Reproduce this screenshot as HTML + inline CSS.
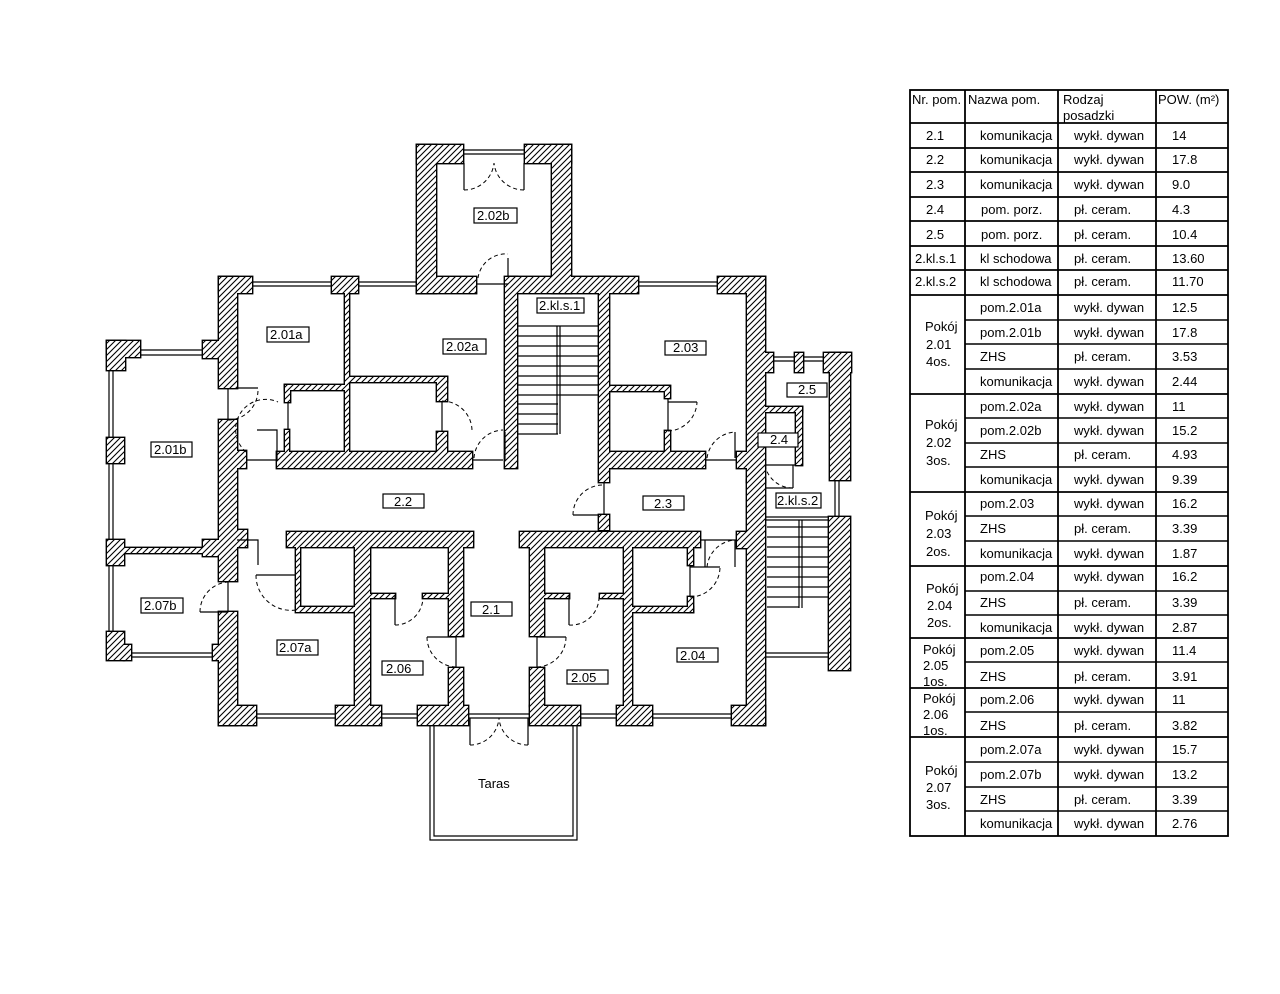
<!DOCTYPE html>
<html><head><meta charset="utf-8"><style>
html,body{margin:0;padding:0;background:#fff;}
svg{display:block;}
text{font-family:"Liberation Sans",sans-serif;font-size:13px;fill:#000;}
.l{stroke:#000;stroke-width:1.2;fill:none;}
.d{stroke:#000;stroke-width:1;fill:none;stroke-dasharray:4 3;}
.b{fill:#fff;stroke:#000;stroke-width:1.2;}
</style></head><body>
<svg width="1280" height="994" viewBox="0 0 1280 994" xmlns="http://www.w3.org/2000/svg" xmlns:xlink="http://www.w3.org/1999/xlink">
<defs><pattern id="h" patternUnits="userSpaceOnUse" width="6" height="6"><rect width="6" height="6" fill="#fff"/><path d="M-1,7 L7,-1 M-1,1 L1,-1 M5,7 L7,5" stroke="#000" stroke-width="1.1"/></pattern>
<g id="W">
<rect x="417" y="145" width="19" height="148"/>
<rect x="417" y="145" width="46" height="18"/>
<rect x="525" y="145" width="46" height="18"/>
<rect x="552" y="145" width="19" height="148"/>
<rect x="219" y="277" width="33" height="16"/>
<rect x="332" y="277" width="26" height="16"/>
<rect x="417" y="277" width="59" height="16"/>
<rect x="508" y="277" width="130" height="16"/>
<rect x="718" y="277" width="47" height="16"/>
<rect x="219" y="277" width="18" height="111"/>
<rect x="203" y="341" width="17" height="17"/>
<rect x="219" y="420" width="18" height="161"/>
<rect x="203" y="540" width="17" height="16"/>
<rect x="219" y="612" width="18" height="113"/>
<rect x="237" y="451" width="9" height="17"/>
<rect x="345" y="293" width="4" height="160"/>
<rect x="285" y="385" width="62" height="5"/>
<rect x="349" y="377" width="98" height="5"/>
<rect x="437" y="377" width="10" height="24"/>
<rect x="437" y="432" width="10" height="22"/>
<rect x="285" y="385" width="5" height="17"/>
<rect x="285" y="430" width="4" height="22"/>
<rect x="277" y="452" width="195" height="16"/>
<rect x="505" y="277" width="12" height="191"/>
<rect x="599" y="277" width="10" height="205"/>
<rect x="599" y="515" width="10" height="15"/>
<rect x="609" y="386" width="60" height="5"/>
<rect x="665" y="386" width="5" height="12"/>
<rect x="665" y="431" width="5" height="21"/>
<rect x="609" y="452" width="96" height="16"/>
<rect x="747" y="277" width="18" height="205"/>
<rect x="737" y="452" width="10" height="16"/>
<rect x="765" y="353" width="8" height="19"/>
<rect x="795" y="353" width="8" height="19"/>
<rect x="824" y="353" width="27" height="19"/>
<rect x="830" y="353" width="20" height="127"/>
<rect x="765" y="407" width="37" height="5"/>
<rect x="796" y="407" width="6" height="58"/>
<rect x="287" y="532" width="186" height="15"/>
<rect x="520" y="532" width="180" height="15"/>
<rect x="737" y="532" width="10" height="16"/>
<rect x="237" y="530" width="10" height="17"/>
<rect x="747" y="480" width="18" height="245"/>
<rect x="829" y="517" width="21" height="153"/>
<rect x="624" y="547" width="8" height="160"/>
<rect x="632" y="607" width="61" height="5"/>
<rect x="688" y="547" width="5" height="18"/>
<rect x="688" y="597" width="5" height="15"/>
<rect x="296" y="547" width="4" height="60"/>
<rect x="296" y="607" width="59" height="5"/>
<rect x="355" y="547" width="15" height="160"/>
<rect x="370" y="594" width="25" height="4"/>
<rect x="423" y="594" width="26" height="4"/>
<rect x="449" y="547" width="14" height="89"/>
<rect x="449" y="668" width="14" height="38"/>
<rect x="530" y="547" width="14" height="89"/>
<rect x="530" y="668" width="14" height="38"/>
<rect x="544" y="594" width="25" height="4"/>
<rect x="600" y="594" width="24" height="4"/>
<rect x="219" y="706" width="37" height="19"/>
<rect x="336" y="706" width="45" height="19"/>
<rect x="418" y="706" width="50" height="19"/>
<rect x="530" y="706" width="50" height="19"/>
<rect x="617" y="706" width="35" height="19"/>
<rect x="732" y="706" width="33" height="19"/>
<rect x="107" y="341" width="33" height="16"/>
<rect x="107" y="341" width="18" height="29"/>
<rect x="107" y="438" width="17" height="25"/>
<rect x="107" y="540" width="17" height="25"/>
<rect x="124" y="548" width="95" height="5"/>
<rect x="107" y="632" width="17" height="28"/>
<rect x="124" y="645" width="7" height="15"/>
<rect x="213" y="645" width="7" height="15"/>
</g>
</defs>

<use xlink:href="#W" href="#W" fill="none" stroke="#000" stroke-width="2.8"/>
<use xlink:href="#W" href="#W" fill="url(#h)" stroke="none"/>

<!-- annex details -->
<path class="l" d="M463,150 H525 M463,154 H525"/>
<path class="l" d="M464,163 V190 M524,163 V190"/>
<path class="d" d="M464,190 A30,30 0 0 0 494,163 M524,190 A30,30 0 0 1 494,163"/>
<path class="l" d="M476,284 H508 M508,258 V277"/>
<path class="d" d="M478,278 A28,28 0 0 1 508,254"/>
<path class="l" d="M252,282 H332 M252,286 H332 M358,282 H417 M358,286 H417 M638,282 H718 M638,286 H718"/>

<path class="l" d="M228,388 V420 M237,388 H258 M246,460 H278"/>
<path class="d" d="M228,420 A30,30 0 0 0 258,390"/>
<path class="d" d="M246,452 A30,30 0 0 1 278,402"/>
<path class="l" d="M257,430 H277 V460"/>
<path class="l" d="M442,401 V432 M472,460 H503 M505,432 V460"/>
<path class="d" d="M442,401 A30,30 0 0 1 472,430"/>
<path class="d" d="M474,458 A30,30 0 0 1 503,430"/>
<path class="l" d="M288,402 V430"/>

<path class="l" d="M517,326 H599 M517,336 H599 M517,346 H599 M517,356 H599 M517,366 H599 M517,376 H599 M517,385 H599 M517,395 H599 M517,404 H558 M517,414 H558 M517,424 H558 M517,434 H558 M557,326 V434 M560,326 V434" stroke-width="1"/>
<path class="l" d="M604,482 V515 M573,515 H599"/>
<path class="d" d="M573,515 A30,30 0 0 1 603,485"/>

<path class="l" d="M668,398 V431 M668,402 H697 M705,460 H737 M735,432 V458"/>
<path class="d" d="M668,431 A30,30 0 0 0 697,402"/>
<path class="d" d="M707,458 A30,30 0 0 1 735,432"/>

<path class="l" d="M773,357 H795 M773,361 H795 M803,357 H824 M803,361 H824"/>
<path class="l" d="M765,465 H796 M793,465 V488 M765,488 H793"/>
<path class="d" d="M765,465 A28,28 0 0 0 792,488"/>
<path class="l" d="M835,480 V517 M839,480 V517"/>

<path class="l" d="M237,540 H258 V565 M700,540 H737 M735,540 V567"/>
<path class="l" d="M765,517 H829 M765,520 H829"/>
<path class="l" d="M767,527 H829 M767,537 H829 M767,547 H829 M767,557 H829 M767,567 H829 M767,577 H829 M767,587 H829 M767,597 H829 M767,607 H799 M799,520 V608 M802,520 V608" stroke-width="1"/>
<path class="l" d="M765,653 H829 M765,657 H829"/>
<path class="d" d="M707,567 A30,30 0 0 1 735,540"/>

<path class="l" d="M690,565 V597 M690,567 H720 M705,540 V567"/>
<path class="d" d="M690,597 A30,30 0 0 0 720,567"/>
<path class="l" d="M256,575 H296"/>
<path class="d" d="M256,575 A35,35 0 0 0 296,610"/>
<path class="l" d="M228,581 V612 M200,612 H228"/>
<path class="d" d="M200,612 A30,30 0 0 1 228,582"/>

<path class="l" d="M395,596 V625 M456,636 V668 M427,637 H456"/>
<path class="d" d="M395,625 A28,28 0 0 0 423,597"/>
<path class="d" d="M427,637 A30,30 0 0 0 456,667"/>
<path class="l" d="M569,596 V625 M537,636 V668 M537,637 H566"/>
<path class="d" d="M569,625 A28,28 0 0 0 599,597"/>
<path class="d" d="M566,637 A30,30 0 0 1 537,667"/>

<path class="l" d="M256,714 H336 M256,718 H336 M381,714 H418 M381,718 H418 M468,714 H530 M468,718 H530 M580,714 H617 M580,718 H617 M652,714 H732 M652,718 H732"/>
<path class="l" d="M470,718 V745 M528,718 V745"/>
<path class="d" d="M470,745 A29,29 0 0 0 499,718 M528,745 A29,29 0 0 1 499,718"/>

<path d="M430,726 V840 H577 V726 M434,726 V836 H573 V726" fill="none" stroke="#000" stroke-width="1.2"/>

<path class="l" d="M140,350 H203 M140,355 H203"/>
<path class="l" d="M109,370 V438 M113,370 V438 M109,463 V540 M113,463 V540 M109,565 V632 M113,565 V632"/>
<path class="l" d="M131,653 H213 M131,657 H213"/>

<!-- labels -->
<rect class="b" x="474" y="208" width="43" height="15"/><text x="477" y="220">2.02b</text>
<rect class="b" x="267" y="327" width="42" height="15"/><text x="270" y="339">2.01a</text>
<rect class="b" x="443" y="339" width="43" height="15"/><text x="446" y="351">2.02a</text>
<rect class="b" x="537" y="298" width="47" height="15"/><text x="539" y="310">2.kl.s.1</text>
<rect class="b" x="665" y="341" width="41" height="14"/><text x="673" y="352">2.03</text>
<rect class="b" x="787" y="383" width="40" height="14"/><text x="798" y="394">2.5</text>
<rect class="b" x="758" y="433" width="40" height="14"/><text x="770" y="444">2.4</text>
<rect class="b" x="151" y="442" width="41" height="15"/><text x="154" y="454">2.01b</text>
<rect class="b" x="383" y="494" width="41" height="14"/><text x="394" y="506">2.2</text>
<rect class="b" x="643" y="496" width="41" height="14"/><text x="654" y="508">2.3</text>
<rect class="b" x="776" y="493" width="45" height="15"/><text x="777" y="505">2.kl.s.2</text>
<rect class="b" x="141" y="598" width="42" height="15"/><text x="144" y="610">2.07b</text>
<rect class="b" x="471" y="602" width="41" height="14"/><text x="482" y="614">2.1</text>
<rect class="b" x="277" y="640" width="41" height="15"/><text x="279" y="652">2.07a</text>
<rect class="b" x="382" y="661" width="41" height="14"/><text x="386" y="673">2.06</text>
<rect class="b" x="567" y="670" width="41" height="14"/><text x="571" y="682">2.05</text>
<rect class="b" x="677" y="648" width="41" height="14"/><text x="680" y="660">2.04</text>
<text x="478" y="788" font-size="14">Taras</text>

<!-- TABLE -->
<g fill="none" stroke="#000">
<rect x="910" y="90" width="318" height="746" stroke-width="1.8"/>
<path d="M965,90 V836 M1058,90 V836 M1156,90 V836" stroke-width="1.8"/>
<path d="M910,123 H1228 M910,148 H1228 M910,172 H1228 M910,197 H1228 M910,221 H1228 M910,246 H1228 M910,270 H1228 M910,295 H1228 M910,394 H1228 M910,492 H1228 M910,566 H1228 M910,638 H1228 M910,688 H1228 M910,737 H1228" stroke-width="1.8"/>
<path d="M965,320 H1228 M965,344 H1228 M965,369 H1228 M965,418 H1228 M965,443 H1228 M965,467 H1228 M965,516 H1228 M965,541 H1228 M965,591 H1228 M965,615 H1228 M965,662 H1228 M965,712 H1228 M965,762 H1228 M965,787 H1228 M965,811 H1228" stroke-width="1.4"/>
</g>
<text x="912" y="104">Nr. pom.</text><text x="968" y="104">Nazwa pom.</text><text x="1063" y="104">Rodzaj</text><text x="1063" y="120">posadzki</text><text x="1158" y="104">POW. (m²)</text>

<text x="926" y="140">2.1</text><text x="980" y="140">komunikacja</text><text x="1074" y="140">wykł. dywan</text><text x="1172" y="140">14</text>
<text x="926" y="164">2.2</text><text x="980" y="164">komunikacja</text><text x="1074" y="164">wykł. dywan</text><text x="1172" y="164">17.8</text>
<text x="926" y="189">2.3</text><text x="980" y="189">komunikacja</text><text x="1074" y="189">wykł. dywan</text><text x="1172" y="189">9.0</text>
<text x="926" y="214">2.4</text><text x="981" y="214">pom. porz.</text><text x="1074" y="214">pł. ceram.</text><text x="1172" y="214">4.3</text>
<text x="926" y="239">2.5</text><text x="981" y="239">pom. porz.</text><text x="1074" y="239">pł. ceram.</text><text x="1172" y="239">10.4</text>
<text x="915" y="263">2.kl.s.1</text><text x="980" y="263">kl schodowa</text><text x="1074" y="263">pł. ceram.</text><text x="1172" y="263">13.60</text>
<text x="915" y="286">2.kl.s.2</text><text x="980" y="286">kl schodowa</text><text x="1074" y="286">pł. ceram.</text><text x="1172" y="286">11.70</text>

<text x="925" y="331">Pokój</text><text x="926" y="349">2.01</text><text x="926" y="366">4os.</text>
<text x="980" y="312">pom.2.01a</text><text x="1074" y="312">wykł. dywan</text><text x="1172" y="312">12.5</text>
<text x="980" y="337">pom.2.01b</text><text x="1074" y="337">wykł. dywan</text><text x="1172" y="337">17.8</text>
<text x="980" y="361">ZHS</text><text x="1074" y="361">pł. ceram.</text><text x="1172" y="361">3.53</text>
<text x="980" y="386">komunikacja</text><text x="1074" y="386">wykł. dywan</text><text x="1172" y="386">2.44</text>

<text x="925" y="429">Pokój</text><text x="926" y="447">2.02</text><text x="926" y="465">3os.</text>
<text x="980" y="411">pom.2.02a</text><text x="1074" y="411">wykł. dywan</text><text x="1172" y="411">11</text>
<text x="980" y="435">pom.2.02b</text><text x="1074" y="435">wykł. dywan</text><text x="1172" y="435">15.2</text>
<text x="980" y="459">ZHS</text><text x="1074" y="459">pł. ceram.</text><text x="1172" y="459">4.93</text>
<text x="980" y="484">komunikacja</text><text x="1074" y="484">wykł. dywan</text><text x="1172" y="484">9.39</text>

<text x="925" y="520">Pokój</text><text x="926" y="538">2.03</text><text x="926" y="556">2os.</text>
<text x="980" y="508">pom.2.03</text><text x="1074" y="508">wykł. dywan</text><text x="1172" y="508">16.2</text>
<text x="980" y="533">ZHS</text><text x="1074" y="533">pł. ceram.</text><text x="1172" y="533">3.39</text>
<text x="980" y="558">komunikacja</text><text x="1074" y="558">wykł. dywan</text><text x="1172" y="558">1.87</text>

<text x="926" y="593">Pokój</text><text x="927" y="610">2.04</text><text x="927" y="627">2os.</text>
<text x="980" y="581">pom.2.04</text><text x="1074" y="581">wykł. dywan</text><text x="1172" y="581">16.2</text>
<text x="980" y="607">ZHS</text><text x="1074" y="607">pł. ceram.</text><text x="1172" y="607">3.39</text>
<text x="980" y="632">komunikacja</text><text x="1074" y="632">wykł. dywan</text><text x="1172" y="632">2.87</text>

<text x="923" y="654">Pokój</text><text x="923" y="670">2.05</text><text x="923" y="686">1os.</text>
<text x="980" y="655">pom.2.05</text><text x="1074" y="655">wykł. dywan</text><text x="1172" y="655">11.4</text>
<text x="980" y="681">ZHS</text><text x="1074" y="681">pł. ceram.</text><text x="1172" y="681">3.91</text>

<text x="923" y="703">Pokój</text><text x="923" y="719">2.06</text><text x="923" y="735">1os.</text>
<text x="980" y="704">pom.2.06</text><text x="1074" y="704">wykł. dywan</text><text x="1172" y="704">11</text>
<text x="980" y="730">ZHS</text><text x="1074" y="730">pł. ceram.</text><text x="1172" y="730">3.82</text>

<text x="925" y="775">Pokój</text><text x="926" y="792">2.07</text><text x="926" y="809">3os.</text>
<text x="980" y="754">pom.2.07a</text><text x="1074" y="754">wykł. dywan</text><text x="1172" y="754">15.7</text>
<text x="980" y="779">pom.2.07b</text><text x="1074" y="779">wykł. dywan</text><text x="1172" y="779">13.2</text>
<text x="980" y="804">ZHS</text><text x="1074" y="804">pł. ceram.</text><text x="1172" y="804">3.39</text>
<text x="980" y="828">komunikacja</text><text x="1074" y="828">wykł. dywan</text><text x="1172" y="828">2.76</text>
</svg>
</body></html>
